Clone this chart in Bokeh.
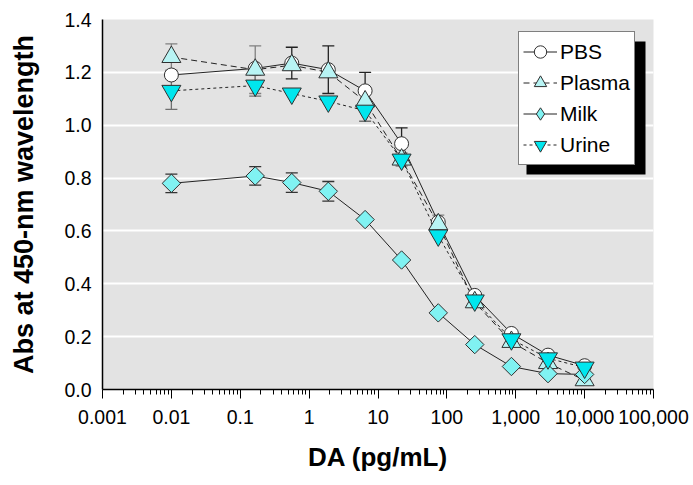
import math
from bokeh.plotting import figure
from bokeh.models import (FixedTicker, CustomJSTickFormatter, Whisker, ColumnDataSource,
                          Legend, LegendItem, BoxAnnotation, Range1d, NumeralTickFormatter)
from bokeh.embed import file_html
from bokeh.resources import INLINE

# ---- data ----
da = [0.01, 0.165, 0.56, 1.9, 6.5, 22, 75, 254, 865, 2940, 10000]
pbs = [1.19, 1.215, 1.235, 1.21, 1.13, 0.93, 0.633, 0.356, 0.212, 0.13, 0.09]
plasma = [1.258, 1.21, 1.227, 1.20, 1.09, 0.87, 0.625, 0.33, 0.18, 0.10, 0.035]
milk = [0.78, 0.808, 0.783, 0.75, 0.643, 0.49, 0.29, 0.17, 0.087, 0.06, 0.057]
urine = [1.13, 1.15, 1.12, 1.09, 1.055, 0.87, 0.583, 0.337, 0.19, 0.118, 0.083]

pbs_err = [0, 0, 0.06, 0.09, 0.07, 0.06, 0, 0, 0, 0, 0]
plasma_err = [0.05, 0.09, 0, 0, 0, 0.025, 0.035, 0, 0, 0, 0]
milk_err = [0.035, 0.035, 0.037, 0.037, 0, 0, 0, 0, 0, 0, 0]
urine_err = [0.07, 0.04, 0, 0, 0.04, 0, 0, 0, 0, 0, 0]

x_ticks = [0.001, 0.01, 0.1, 1, 10, 100, 1000, 10000, 100000]
x_tick_labels = ["0.001", "0.01", "0.1", "1", "10", "100", "1,000", "10,000", "100,000"]
y_ticks = [0.0, 0.2, 0.4, 0.6, 0.8, 1.0, 1.2, 1.4]

FONT = "Liberation Sans"

p = figure(width=693, height=485, x_axis_type="log", output_backend="svg",
           toolbar_location=None, min_border_left=102, min_border_right=40,
           min_border_top=19, min_border_bottom=96,
           x_range=Range1d(0.001, 100000), y_range=Range1d(0, 1.4))
p.background_fill_color = "#e3e3e3"
p.border_fill_color = "white"
p.outline_line_color = None

# grid
p.xgrid.grid_line_color = None
p.ygrid.grid_line_color = "white"
p.ygrid.grid_line_width = 2
p.ygrid.ticker = FixedTicker(ticks=y_ticks)

# axes
minors = [k * 10.0 ** e for e in range(-3, 5) for k in range(2, 10)]
p.xaxis.ticker = FixedTicker(ticks=x_ticks, minor_ticks=minors)
p.xaxis.formatter = CustomJSTickFormatter(args=dict(tv=x_ticks, tl=x_tick_labels), code="""
    let best = 0, bd = 1e9;
    for (let i = 0; i < tv.length; i++) {
        const d = Math.abs(Math.log10(tv[i]) - Math.log10(tick));
        if (d < bd) { bd = d; best = i; }
    }
    return tl[best];
""")
p.yaxis.ticker = FixedTicker(ticks=y_ticks)
p.yaxis.formatter = NumeralTickFormatter(format="0.0")

for ax in (p.xaxis[0], p.yaxis[0]):
    ax.axis_line_color = "black"
    ax.axis_line_width = 1.5
    ax.major_label_text_font = FONT
    ax.major_label_text_font_size = "19.5px"
    ax.major_label_text_color = "black"
    ax.axis_label_text_font = FONT
    ax.axis_label_text_font_style = "bold"
    ax.axis_label_text_color = "black"
    ax.major_tick_in = 0
    ax.minor_tick_in = 0

p.xaxis.major_tick_out = 9
p.xaxis.minor_tick_out = 5
p.xaxis.major_tick_line_color = "black"
p.xaxis.minor_tick_line_color = "black"
p.xaxis.major_label_standoff = 11
p.xaxis.axis_label = "DA (pg/mL)"
p.xaxis.axis_label_text_font_size = "26px"
p.xaxis.axis_label_standoff = 15

p.yaxis.major_tick_out = 0
p.yaxis.minor_tick_out = 0
p.yaxis.major_tick_line_color = None
p.yaxis.minor_tick_line_color = None
p.yaxis.major_label_standoff = 11
p.yaxis.axis_label = "Abs at 450-nm wavelength"
p.yaxis.axis_label_text_font_size = "27px"
p.yaxis.axis_label_standoff = 22

# error bars
def add_err(vals, errs, color):
    xs = [x for x, e in zip(da, errs) if e > 0]
    up = [v + e for v, e in zip(vals, errs) if e > 0]
    lo = [v - e for v, e in zip(vals, errs) if e > 0]
    src = ColumnDataSource(dict(x=xs, upper=up, lower=lo))
    w = Whisker(source=src, base="x", upper="upper", lower="lower", dimension="height",
                line_color=color, line_width=1.3, level="underlay")
    w.upper_head.size = 12
    w.lower_head.size = 12
    w.upper_head.line_color = color
    w.lower_head.line_color = color
    w.upper_head.line_width = 1.3
    w.lower_head.line_width = 1.3
    p.add_layout(w)

add_err(milk, milk_err, "#333333")
add_err(urine, urine_err, "#707070")
add_err(plasma, plasma_err, "#808080")
add_err(pbs, pbs_err, "#222222")

series = [
    ("PBS", pbs, "circle", 14, "white", "solid", 0, "circle"),
    ("Plasma", plasma, "triangle", 19, "#b8f4f4", "6 4", 0, "triangle"),
    ("Milk", milk, "square", 13, "#80f2f2", "solid", math.pi / 4, "diamond"),
    ("Urine", urine, "inverted_triangle", 19, "#00e6ee", "3 3", 0, "inverted_triangle"),
]

items = []
line_renderers = []
for name, vals, marker, size, fill, dash, ang, lmarker in series:
    lr = p.line(da, vals, line_color="#222222", line_width=1, line_dash=dash)
    line_renderers.append(lr)
for (name, vals, marker, size, fill, dash, ang, lmarker), lr in zip(series, line_renderers):
    mr = p.scatter(da, vals, marker=marker, size=size, fill_color=fill,
                   line_color="#303030", line_width=1, angle=ang)
    if lmarker != marker:
        # legend swatch only (hidden on the plot): upright diamond
        proxy = p.scatter(da, vals, marker=lmarker, size=size, fill_color=fill,
                          line_color="#303030", line_width=1, visible=False)
        items.append(LegendItem(label=name, renderers=[lr, proxy]))
    else:
        items.append(LegendItem(label=name, renderers=[lr, mr]))

shadow = BoxAnnotation(left=424, right=543, bottom=215, top=348,
                       left_units="screen", right_units="screen",
                       bottom_units="screen", top_units="screen",
                       fill_color="black", fill_alpha=1, line_color=None)
p.add_layout(shadow)

legend = Legend(items=items, location=(416, 224), orientation="vertical",
                label_text_font=FONT, label_text_font_size="21px",
                label_text_color="black", glyph_width=34, glyph_height=31,
                label_height=31, spacing=0, padding=4, margin=0,
                label_standoff=3, border_line_color="black", border_line_width=1,
                background_fill_color="white", background_fill_alpha=1)
p.add_layout(legend, "center")

open("out.html", "w").write(file_html(p, INLINE))
